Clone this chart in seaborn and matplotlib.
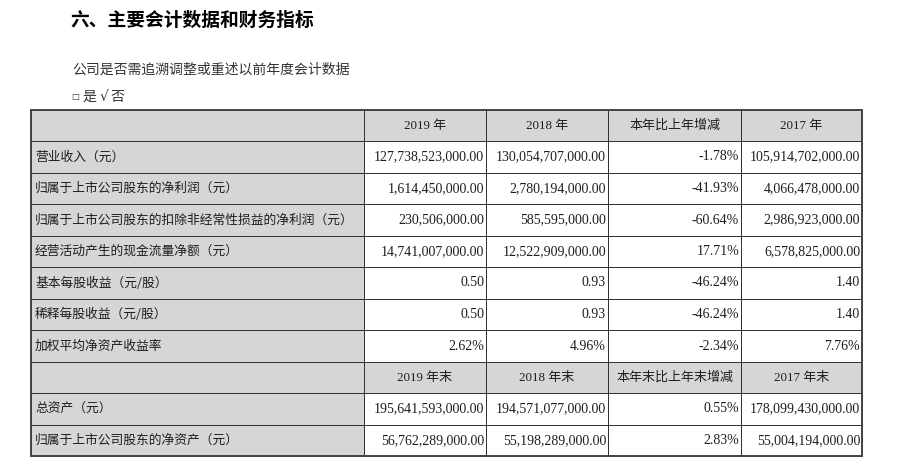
import matplotlib
matplotlib.use('Agg')
import matplotlib.pyplot as plt
import seaborn as sns
import numpy as np
from matplotlib.colors import ListedColormap

#----------------------------------------------------------------------------
# Data
#----------------------------------------------------------------------------

TITLE = '六、主要会计数据和财务指标'
SUBTITLE = '公司是否需追溯调整或重述以前年度会计数据'
CHOICE = ['□', '是', '√', '否']

HEADER_YEAR = ['2019 年', '2018 年', '本年比上年增减', '2017 年']
HEADER_END = ['2019 年末', '2018 年末', '本年末比上年末增减', '2017 年末']

ROW_LABELS = ['营业收入（元）',
              '归属于上市公司股东的净利润（元）',
              '归属于上市公司股东的扣除非经常性损益的净利润（元）',
              '经营活动产生的现金流量净额（元）',
              '基本每股收益（元/股）',
              '稀释每股收益（元/股）',
              '加权平均净资产收益率']
VAL_2019 = ['127,738,523,000.00', '1,614,450,000.00', '230,506,000.00',
            '14,741,007,000.00', '0.50', '0.50', '2.62%']
VAL_2018 = ['130,054,707,000.00', '2,780,194,000.00', '585,595,000.00',
            '12,522,909,000.00', '0.93', '0.93', '4.96%']
VAL_CHANGE = ['-1.78%', '-41.93%', '-60.64%', '17.71%', '-46.24%', '-46.24%', '-2.34%']
VAL_2017 = ['105,914,702,000.00', '4,066,478,000.00', '2,986,923,000.00',
            '6,578,825,000.00', '1.40', '1.40', '7.76%']

ASSET_LABELS = ['总资产（元）', '归属于上市公司股东的净资产（元）']
ASSET_2019 = ['195,641,593,000.00', '56,762,289,000.00']
ASSET_2018 = ['194,571,077,000.00', '55,198,289,000.00']
ASSET_CHANGE = ['0.55%', '2.83%']
ASSET_2017 = ['178,099,430,000.00', '55,004,194,000.00']

#----------------------------------------------------------------------------
# Layout (pixel space)
#----------------------------------------------------------------------------

COL_EDGES = np.array([31, 364, 486, 608, 741, 862])
ROW_EDGES = np.array([110, 141, 173, 204, 236, 267, 299, 330, 362, 393, 425, 456])
GREY = '#d6d6d6'
LINE = '#333333'
TEXT = '#1e1e1e'
CJK = ['Noto Sans CJK SC', 'DejaVu Sans']
NUM = ['Liberation Serif', 'Noto Sans CJK SC']

sns.set_theme(style='white')
plt.rcParams['font.family'] = CJK

# build table rows
rows = [('', HEADER_YEAR, True)]
for i, lab in enumerate(ROW_LABELS):
    rows.append((lab, [VAL_2019[i], VAL_2018[i], VAL_CHANGE[i], VAL_2017[i]], False))
rows.append(('', HEADER_END, True))
for i, lab in enumerate(ASSET_LABELS):
    rows.append((lab, [ASSET_2019[i], ASSET_2018[i], ASSET_CHANGE[i], ASSET_2017[i]], False))

fill = np.zeros((len(rows), 5))
fill[:, 0] = 1
for r, (_, _, is_head) in enumerate(rows):
    if is_head:
        fill[r, :] = 1

fig = plt.figure(figsize=(9.05, 4.71), dpi=100)
ax = fig.add_axes([0, 0, 1, 1])
ax.set_xlim(0, 905)
ax.set_ylim(471, 0)
ax.axis('off')

ax.pcolormesh(COL_EDGES, ROW_EDGES, fill, cmap=ListedColormap(['white', GREY]),
              vmin=0, vmax=1, edgecolors=LINE, linewidth=0.7, snap=True)
ax.plot([COL_EDGES[0], COL_EDGES[-1], COL_EDGES[-1], COL_EDGES[0], COL_EDGES[0]],
        [ROW_EDGES[0], ROW_EDGES[0], ROW_EDGES[-1], ROW_EDGES[-1], ROW_EDGES[0]],
        color='#444444', linewidth=1.4, solid_joinstyle='miter')

ax.text(70, 20, TITLE, fontsize=13.5, fontweight='bold', color='black',
        family=CJK, va='center', ha='left')
ax.text(72, 70, SUBTITLE, fontsize=10, color='#333333', family=CJK, va='center')
for x, ch, fs in zip([75, 89, 104, 117], CHOICE, [6, 10, 10, 10]):
    ax.text(x, 97, ch, fontsize=fs, color='#333333',
            family=['DejaVu Sans'] if ch in '□√' else CJK, va='center', ha='center')

for r, (lab, vals, is_head) in enumerate(rows):
    yc = (ROW_EDGES[r] + ROW_EDGES[r + 1]) / 2
    if lab:
        ax.text(COL_EDGES[0] + 4, yc, lab, fontsize=9.2, color=TEXT, family=CJK,
                va='center', ha='left')
    for c, v in enumerate(vals):
        if is_head:
            xc = (COL_EDGES[c + 1] + COL_EDGES[c + 2]) / 2
            ax.text(xc, yc, v, fontsize=9.4, color=TEXT, family=NUM,
                    va='center', ha='center')
        else:
            ax.text(COL_EDGES[c + 2] - 2, yc, v, fontsize=10, color=TEXT, family=NUM,
                    va='center', ha='right')

fig.savefig('out.png', dpi=100)
